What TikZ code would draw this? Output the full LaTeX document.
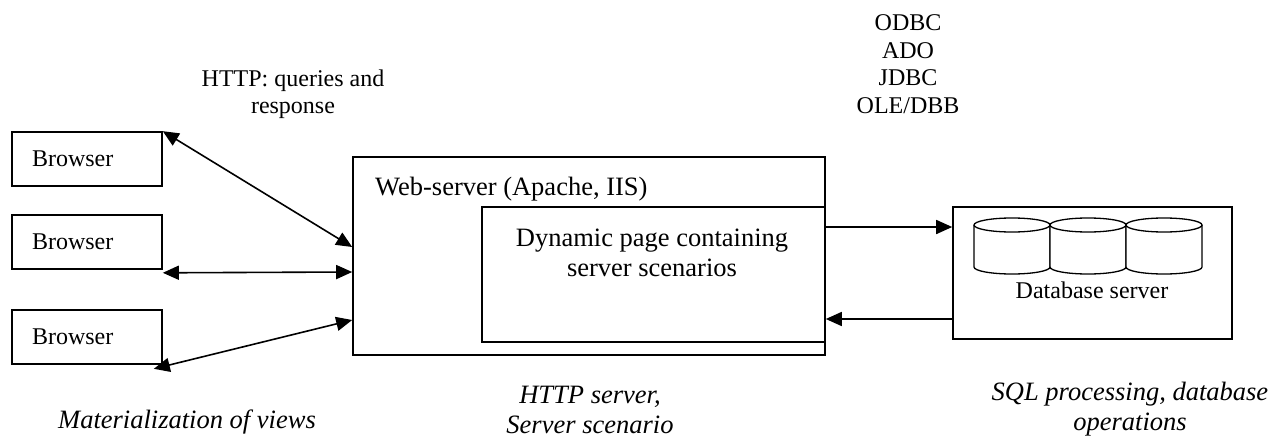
\documentclass[tikz,border=0pt]{standalone}
\usepackage{fontspec}
\setmainfont{Liberation Serif}
\usetikzlibrary{arrows.meta,calc}

\begin{document}
\begin{tikzpicture}[x=1pt,y=-1pt,
  box/.style={draw,line width=1.6pt,inner sep=0pt},
  lbl/.style={inner sep=0pt,align=center,font=\fontsize{24}{27.5}\selectfont},
  big/.style={inner sep=0pt,font=\fontsize{26.5}{30}\selectfont},
  capt/.style={inner sep=0pt,align=center,font=\fontsize{26.5}{30}\selectfont\itshape},
  tip/.tip={Triangle[length=16pt,width=14pt]},
  link/.style={line width=1.6pt,tip-tip},
  flow/.style={line width=1.6pt,-tip},
  browser/.style={box,minimum height=54pt,text width=110pt,inner xsep=20pt,
    align=left,font=\fontsize{24}{27}\selectfont},
  drum/.style={line width=1.3pt,fill=white}
]
\useasboundingbox (0,0) rectangle (1287,439);

% clients
\node[browser] (b1) at (87,159) {Browser};
\node[browser] (b2) at (87,242) {Browser};
\node[browser] (b3) at (87,337) {Browser};

% web server with the dynamic page inside
\node[box,minimum width=472pt,minimum height=198pt] (web) at (589,256) {};
\node[big,anchor=base west] (webt) at (375,195) {Web-server (Apache, IIS)};
\node[box,minimum width=343pt,minimum height=135pt] (dyn) at (653.5,274.5) {};
\node[big,align=center] (dynt) at (652,252.5) {Dynamic page containing\\server scenarios};

% database server with three drums
\node[box,minimum width=279pt,minimum height=132pt] (db) at (1092.5,273) {};
\foreach \x in {974,1050,1126} {
  \draw[drum] (\x,225) -- (\x,267)
    arc[start angle=180,end angle=360,x radius=38pt,y radius=7pt] -- (\x+76,225);
  \draw[drum] (\x+38,225) ellipse[x radius=38pt,y radius=7pt];
}
\node[lbl] (dbt) at (1092,290) {Database server};

% protocol labels
\node[lbl] (http) at (293,94) {HTTP: queries and\\response};
\node[lbl] (api) at (908,64) {ODBC\\ADO\\JDBC\\OLE/DBB};

% captions
\node[capt] (c1) at (187,422) {Materialization of views};
\node[capt] (c2) at (590,410) {HTTP server,\\Server scenario};
\node[capt] (c3) at (1130,409) {SQL processing, database\\operations};

% browser <-> web server
\draw[link] (b1.north east) -- ($(web.west)+(0,-9)$);
\draw[link] ($(b2.south east)+(0,3)$) -- ($(web.west)+(0,16)$);
\draw[link] ($(b3.south east)+(-9,4)$) -- ($(web.west)+(0,64)$);

% web server <-> database
\coordinate (q1) at ($(web.east)+(0,-29)$);
\draw[flow] (q1) -- (q1 -| db.west);
\coordinate (q2) at ($(db.west)+(0,46)$);
\draw[flow] (q2) -- (q2 -| web.east);
\end{tikzpicture}
\end{document}
